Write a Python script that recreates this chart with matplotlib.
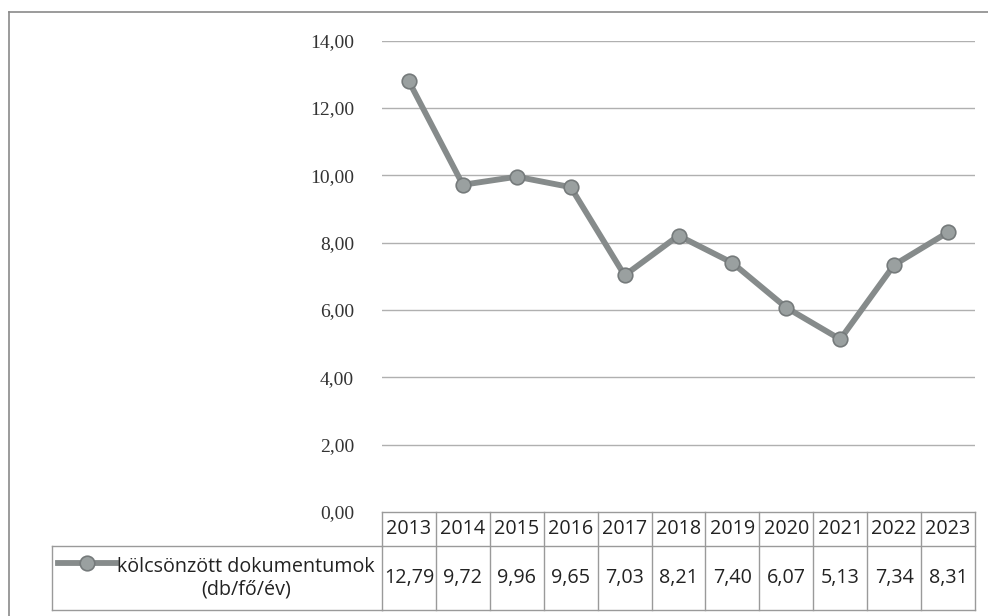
import matplotlib
matplotlib.use("Agg")
import matplotlib.pyplot as plt
from matplotlib.lines import Line2D
import matplotlib.transforms as mtransforms

years = ["2013", "2014", "2015", "2016", "2017", "2018", "2019", "2020", "2021", "2022", "2023"]
values = [12.79, 9.72, 9.96, 9.65, 7.03, 8.21, 7.40, 6.07, 5.13, 7.34, 8.31]
series_name = "kölcsönzött dokumentumok\n(db/fő/év)"
yticks = [0, 2, 4, 6, 8, 10, 12, 14]

W, H = 988, 616
fig = plt.figure(figsize=(W / 100, H / 100), dpi=100)

def fx(px):
    return px / W

def fy(py):
    return 1 - py / H

left, right, top, bottom = 382, 975, 40.7, 512
ax = fig.add_axes([fx(left), fy(bottom), fx(right) - fx(left), fy(top) - fy(bottom)])
n = len(years)
xs = list(range(n))
ax.set_xlim(-0.5, n - 0.5)
ax.set_ylim(0, 14)
for s in ax.spines.values():
    s.set_visible(False)
ax.set_yticks(yticks)
ax.set_yticklabels([f"{v:.2f}".replace(".", ",") for v in yticks],
                   fontfamily="Liberation Serif", fontsize=14, color="#333333")
ax.tick_params(axis="y", length=0, pad=20)
ax.set_xticks([])
for v in yticks[1:]:
    ax.axhline(v, color="#b0b0b0", lw=1.0, zorder=1)

line_color = "#868b8b"
ax.plot(xs, values, color=line_color, lw=4.2, marker="o", markersize=10.5,
        markerfacecolor="#9aa0a0", markeredgecolor="#757a7b", markeredgewidth=1.2,
        zorder=3, clip_on=False)

# data table
tr = mtransforms.blended_transform_factory(ax.transData, fig.transFigure)
gc = "#9a9a9a"
y0, y1, y2 = fy(512), fy(546), fy(610)
for yy in (y0, y1, y2):
    ax.add_line(Line2D([-0.5, n - 0.5], [yy, yy], transform=tr, color=gc, lw=1, clip_on=False))
for i in range(n + 1):
    ax.add_line(Line2D([i - 0.5, i - 0.5], [y0, y2], transform=tr, color=gc, lw=1, clip_on=False))
tf = "Open Sans"
fs = 14.2
for i, (yr, v) in enumerate(zip(years, values)):
    ax.text(i, (y0 + y1) / 2, yr, transform=tr, ha="center", va="center",
            fontsize=fs, fontfamily=tf, color="#222222")
    ax.text(i, (y1 + y2) / 2, f"{v:.2f}".replace(".", ","), transform=tr, ha="center",
            va="center", fontsize=fs, fontfamily=tf, color="#222222")

# legend cell
L = fx(52)
fig.add_artist(Line2D([L, fx(382)], [y1, y1], color=gc, lw=1))
fig.add_artist(Line2D([L, fx(382)], [y2, y2], color=gc, lw=1))
fig.add_artist(Line2D([L, L], [y1, y2], color=gc, lw=1))
fig.add_artist(Line2D([fx(58), fx(116)], [fy(563), fy(563)], color=line_color, lw=4.2))
fig.add_artist(Line2D([fx(87)], [fy(563)], color=line_color, marker="o", markersize=10.5,
                      markerfacecolor="#9aa0a0", markeredgecolor="#757a7b", markeredgewidth=1.2))
fig.text(fx(246), (y1 + y2) / 2, series_name, ha="center", va="center",
         fontsize=fs, fontfamily=tf, color="#222222", linespacing=1.15)

# outer frame
fig.add_artist(Line2D([fx(9), fx(9)], [fy(12), 0], color="#8a8a8a", lw=1.2))
fig.add_artist(Line2D([fx(9), 1], [fy(12), fy(12)], color="#8a8a8a", lw=1.2))

fig.savefig("out.png", dpi=100, facecolor="white")
